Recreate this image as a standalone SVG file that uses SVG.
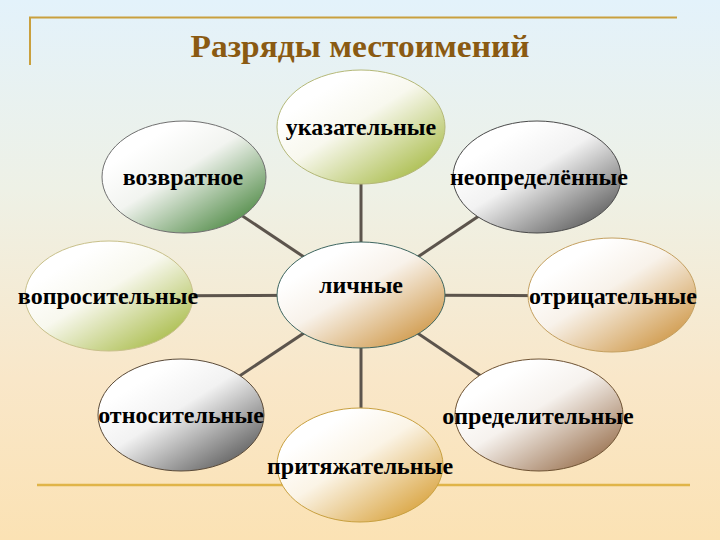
<svg xmlns="http://www.w3.org/2000/svg" width="720" height="540" viewBox="0 0 720 540">
  <defs>
    <linearGradient id="bg" x1="0" y1="0" x2="0" y2="1">
      <stop offset="0" stop-color="#e3f2fb"/>
      <stop offset="0.35" stop-color="#eef1e6"/>
      <stop offset="0.7" stop-color="#f9e7c9"/>
      <stop offset="1" stop-color="#fbe2b4"/>
    </linearGradient>
    <linearGradient id="gYG" x1="0.2" y1="0.25" x2="0.85" y2="0.95">
      <stop offset="0" stop-color="#ffffff"/>
      <stop offset="0.35" stop-color="#f8f8ee"/>
      <stop offset="1" stop-color="#a9bc4a"/>
    </linearGradient>
    <linearGradient id="gGreen" x1="0.2" y1="0.25" x2="0.85" y2="0.95">
      <stop offset="0" stop-color="#ffffff"/>
      <stop offset="0.35" stop-color="#f2f4f0"/>
      <stop offset="1" stop-color="#4f8a45"/>
    </linearGradient>
    <linearGradient id="gGray" x1="0.2" y1="0.25" x2="0.85" y2="0.95">
      <stop offset="0" stop-color="#ffffff"/>
      <stop offset="0.35" stop-color="#f2f2f2"/>
      <stop offset="1" stop-color="#5e5e5e"/>
    </linearGradient>
    <linearGradient id="gTan" x1="0.2" y1="0.25" x2="0.85" y2="0.95">
      <stop offset="0" stop-color="#ffffff"/>
      <stop offset="0.35" stop-color="#f8f2ea"/>
      <stop offset="1" stop-color="#cf9848"/>
    </linearGradient>
    <linearGradient id="gGold" x1="0.2" y1="0.25" x2="0.85" y2="0.95">
      <stop offset="0" stop-color="#ffffff"/>
      <stop offset="0.35" stop-color="#fbf4e6"/>
      <stop offset="1" stop-color="#d9a33e"/>
    </linearGradient>
    <linearGradient id="gBrown" x1="0.2" y1="0.25" x2="0.85" y2="0.95">
      <stop offset="0" stop-color="#ffffff"/>
      <stop offset="0.35" stop-color="#f6f2ee"/>
      <stop offset="1" stop-color="#9a7250"/>
    </linearGradient>
  </defs>
  <style>
    .lbl { font-family: "Liberation Serif", "Times New Roman", serif; font-weight: bold; font-size: 24px; fill: #000; text-anchor: middle; }
    .title { font-family: "Liberation Serif", "Times New Roman", serif; font-weight: bold; font-size: 31px; fill: #8a5a12; text-anchor: middle; }
    .frame { stroke: #c9a03e; stroke-width: 2; fill: none; }
    .conn { stroke: #5c544c; stroke-width: 3; fill: none; }
    .node ellipse { stroke-width: 1; }
  </style>
  <rect x="0" y="0" width="720" height="540" fill="url(#bg)"/>

  <g id="frame">
    <path class="frame" d="M30,65 V17.5 H677"/>
    <line x1="37" y1="485" x2="690" y2="485" stroke="#e0b448" stroke-width="2.5"/>
  </g>
  <text id="title" class="title" x="360" y="57" textLength="339" lengthAdjust="spacingAndGlyphs">Разряды местоимений</text>

  <g id="connectors">
    <line class="conn" x1="361" y1="295" x2="361" y2="127"/>
    <line class="conn" x1="361" y1="295" x2="361" y2="465"/>
    <line class="conn" x1="361" y1="295" x2="109" y2="296"/>
    <line class="conn" x1="361" y1="295" x2="612" y2="296"/>
    <line class="conn" x1="361" y1="295" x2="184" y2="177"/>
    <line class="conn" x1="361" y1="295" x2="537" y2="177"/>
    <line class="conn" x1="361" y1="295" x2="181" y2="415"/>
    <line class="conn" x1="361" y1="295" x2="539" y2="415"/>
  </g>

  <g id="n-ukaz" class="node">
    <ellipse cx="361" cy="127" rx="84" ry="57" fill="url(#gYG)" stroke="#b4b878"/>
    <text class="lbl" x="361" y="135">указательные</text>
  </g>
  <g id="n-vozvr" class="node">
    <ellipse cx="184" cy="177" rx="82" ry="56" fill="url(#gGreen)" stroke="#707070"/>
    <text class="lbl" x="183" y="185">возвратное</text>
  </g>
  <g id="n-neopr" class="node">
    <ellipse cx="537" cy="177" rx="84" ry="56" fill="url(#gGray)" stroke="#4a4a4a"/>
    <text class="lbl" x="539" y="185">неопределённые</text>
  </g>
  <g id="n-vopr" class="node">
    <ellipse cx="109" cy="296" rx="84" ry="55" fill="url(#gYG)" stroke="#c8c08a"/>
    <text class="lbl" x="108" y="304">вопросительные</text>
  </g>
  <g id="n-lichn" class="node">
    <ellipse cx="361" cy="295" rx="84" ry="53" fill="url(#gTan)" stroke="#3e6660"/>
    <text class="lbl" x="361" y="293">личные</text>
  </g>
  <g id="n-otric" class="node">
    <ellipse cx="612" cy="295" rx="84" ry="57" fill="url(#gTan)" stroke="#c4a060"/>
    <text class="lbl" x="613" y="304">отрицательные</text>
  </g>
  <g id="n-otnos" class="node">
    <ellipse cx="181" cy="415" rx="83" ry="56" fill="url(#gGray)" stroke="#5a4a38"/>
    <text class="lbl" x="181" y="423">относительные</text>
  </g>
  <g id="n-opred" class="node">
    <ellipse cx="539" cy="415" rx="84" ry="56" fill="url(#gBrown)" stroke="#6e5232"/>
    <text class="lbl" x="538" y="424">определительные</text>
  </g>
  <g id="n-prit" class="node">
    <ellipse cx="360" cy="465" rx="83" ry="57" fill="url(#gGold)" stroke="#c8a040"/>
    <text class="lbl" x="360" y="474">притяжательные</text>
  </g>
</svg>
